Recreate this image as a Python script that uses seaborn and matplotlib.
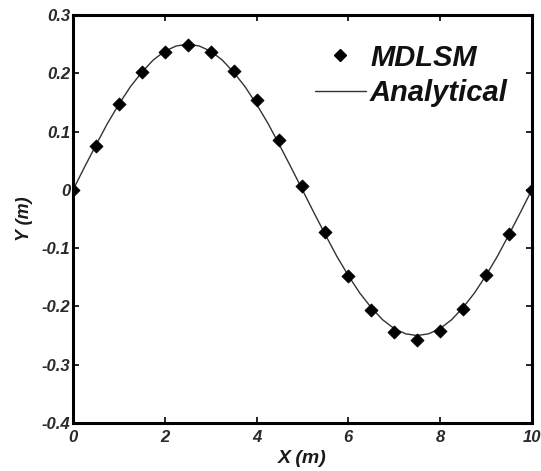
import matplotlib
matplotlib.use("Agg")
import matplotlib.pyplot as plt
import seaborn as sns
import pandas as pd
from matplotlib.lines import Line2D

# Numerical (MDLSM) points
x_mdlsm = [0, 0.5, 1, 1.5, 2, 2.5, 3, 3.5, 4, 4.5, 5, 5.5, 6, 6.5, 7, 7.5, 8, 8.5, 9, 9.5, 10]
y_mdlsm = [0.0, 0.076, 0.147, 0.202, 0.237, 0.248, 0.237, 0.204, 0.154, 0.086, 0.007,
           -0.073, -0.147, -0.206, -0.244, -0.258, -0.243, -0.205, -0.146, -0.075, 0.0]

# Analytical curve
x_ana = [0, 0.25, 0.5, 0.75, 1, 1.25, 1.5, 1.75, 2, 2.25, 2.5, 2.75, 3, 3.25, 3.5, 3.75,
         4, 4.25, 4.5, 4.75, 5, 5.25, 5.5, 5.75, 6, 6.25, 6.5, 6.75, 7, 7.25, 7.5, 7.75,
         8, 8.25, 8.5, 8.75, 9, 9.25, 9.5, 9.75, 10]
y_ana = [0.0, 0.039, 0.077, 0.114, 0.147, 0.177, 0.202, 0.223, 0.238, 0.247, 0.250,
         0.247, 0.238, 0.223, 0.202, 0.177, 0.147, 0.114, 0.077, 0.039, 0.0,
         -0.039, -0.077, -0.114, -0.147, -0.177, -0.202, -0.223, -0.238, -0.247, -0.250,
         -0.247, -0.238, -0.223, -0.202, -0.177, -0.147, -0.114, -0.077, -0.039, 0.0]

x_ticks = [0, 2, 4, 6, 8, 10]
x_ticklabels = ["0", "2", "4", "6", "8", "10"]
y_ticks = [-0.4, -0.3, -0.2, -0.1, 0, 0.1, 0.2, 0.3]
y_ticklabels = ["-0.4", "-0.3", "-0.2", "-0.1", "0", "0.1", "0.2", "0.3"]

sns.set_theme(style="white")
plt.rcParams['font.family'] = ['Liberation Sans', 'DejaVu Sans']

fig = plt.figure(figsize=(5.41, 4.71), dpi=100)
ax = fig.add_axes([0.135, 0.102, 0.848, 0.866])

df_ana = pd.DataFrame({"x": x_ana, "y": y_ana})
df_num = pd.DataFrame({"x": x_mdlsm, "y": y_mdlsm})

sns.lineplot(data=df_ana, x="x", y="y", ax=ax, color="#333333", linewidth=1.0,
             sort=False, legend=False)
sns.scatterplot(data=df_num, x="x", y="y", ax=ax, marker="D", s=45, color="black",
                edgecolor="black", linewidth=0.5, legend=False, zorder=3)

ax.set_xlim(0, 10)
ax.set_ylim(-0.4, 0.3)
ax.set_xticks(x_ticks)
ax.set_xticklabels(x_ticklabels)
ax.set_yticks(y_ticks)
ax.set_yticklabels(y_ticklabels)

ax.tick_params(direction="in", length=4, width=1.2, top=True, right=True,
               bottom=True, left=True, colors="black")
ax.tick_params(axis="y", pad=2)
ax.tick_params(axis="x", pad=5)
for lbl in ax.get_xticklabels() + ax.get_yticklabels():
    lbl.set_fontsize(12)
    lbl.set_fontweight("bold")
    lbl.set_fontstyle("italic")
    lbl.set_color("#2a2a2a")

for sp in ax.spines.values():
    sp.set_linewidth(2.2)
    sp.set_color("black")

ax.set_xlabel("X (m)", fontsize=14, fontweight="bold", fontstyle="italic",
              labelpad=4, color="#1a1a1a")
ax.set_ylabel("Y (m)", fontsize=13, fontweight="bold", fontstyle="italic",
              labelpad=6, color="#1a1a1a")

handles = [
    Line2D([], [], marker="D", linestyle="none", color="black", markersize=6),
    Line2D([], [], color="#333333", linewidth=1.0),
]
leg = ax.legend(handles, ["MDLSM", "Analytical"], loc="upper right", frameon=False,
                prop=dict(size=21, weight="bold", style="italic"),
                handlelength=1.75, handletextpad=0.15, labelspacing=0.25,
                borderaxespad=0.0, borderpad=0.0, bbox_to_anchor=(0.948, 0.93))
for t in leg.get_texts():
    t.set_color("#111111")

fig.savefig("out.png", dpi=100)
